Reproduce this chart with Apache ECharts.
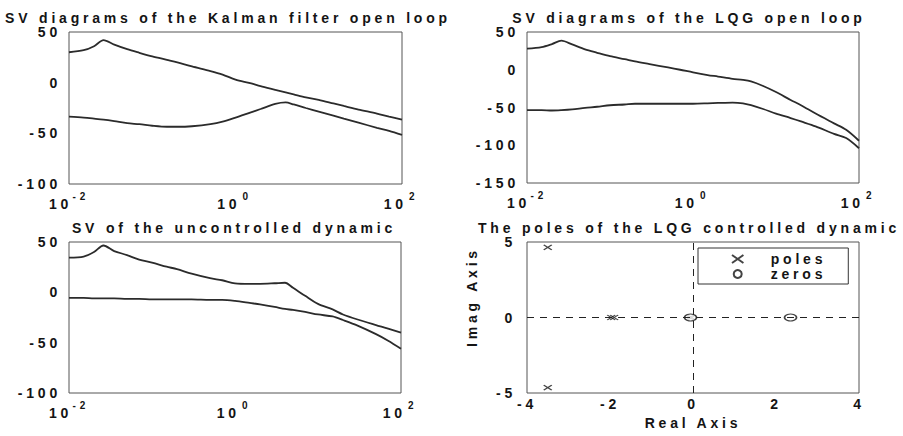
<!DOCTYPE html>
<html>
<head>
<meta charset="utf-8">
<script src="https://cdn.jsdelivr.net/npm/echarts@6.0.0/dist/echarts.min.js"></script>
<style>
html, body { margin: 0; padding: 0; background: #fff; }
#main { width: 903px; height: 436px; }
/* the scanned figure uses widely spaced lettering */
#main text, #main tspan { letter-spacing: 3.8px; }
</style>
</head>
<body>
<div id="main"></div>
<script>
// frequency grid (rad/s) shared by the three singular value plots
var freq = [0.01, 0.015, 0.02, 0.026, 0.035, 0.05, 0.07, 0.1, 0.15, 0.2, 0.3, 0.5, 0.7,
            1, 1.5, 2, 3, 4, 5, 7, 10, 15, 20, 30, 50, 70, 100];

// singular values (dB)
var kalmanUpper = [30, 32, 36, 42, 37.5, 33, 29.5, 26, 22.5, 20, 16, 11.5, 8,
                   3, -0.5, -3.5, -7, -9.5, -11.5, -14.5, -17, -20.5, -23, -26.5, -30.5, -33.5, -36.5];
var kalmanLower = [-33.5, -34.5, -35.5, -36.5, -38, -40, -41, -42.5, -43.5, -43.5, -43, -41, -38.5,
                   -34.5, -29.5, -26, -21, -19.5, -21.5, -25, -28.5, -32.5, -35.5, -39.5, -44.5, -47.5, -51.5];
var lqgUpper = [28, 30, 34, 38.5, 33.5, 27, 22.5, 18, 14, 11, 7.5, 3, 0,
                -3.5, -7, -9, -12, -13.5, -15.5, -21.5, -29.5, -40, -47, -58, -71, -79.5, -94];
var lqgLower = [-53.5, -53.5, -54, -53.5, -52.5, -50.5, -49, -47, -46, -45, -45, -45, -45,
                -45, -44.5, -44, -43.5, -44.5, -47, -52, -58, -64, -68.5, -75, -85, -90.5, -104];
var plantUpper = [34.5, 35.5, 40, 46.5, 41, 37, 32.5, 29.5, 25.5, 23, 18.5, 14, 12,
                  9, 8.5, 8.5, 9, 9.5, 4.5, -3.5, -11.5, -17, -22, -27, -32.5, -36, -40];
var plantLower = [-5.5, -5.5, -6, -6, -6, -6.5, -6.5, -7, -7, -7, -7, -7.5, -7.5,
                  -8.5, -10.5, -12, -14.5, -16.5, -17.5, -19.5, -22, -24, -27.5, -33, -41.5, -48, -56];

// pole / zero map of the closed loop
var poleRe = [-3.5, -3.5, -1.97, -1.9, -0.03, -0.08];
var poleIm = [4.65, -4.65, 0, 0, 0, 0];
var zeroRe = [-0.06, 2.35];
var zeroIm = [0, 0];

var titles = ['SV diagrams of the Kalman filter open loop', 'SV diagrams of the LQG open loop',
              'SV of the uncontrolled dynamic', 'The poles of the LQG controlled dynamic'];

var ink = '#141414';

function pairs(xs, ys) {
    return xs.map(function (x, i) { return [x, ys[i]]; });
}

function decadeLabel(v) {
    var e = Math.round(Math.log(v) / Math.LN10);
    if (e % 2 !== 0) return '';
    return '{b|10}{s|' + e + '}';
}

function logX(gi) {
    return {
        type: 'log', logBase: 10, gridIndex: gi, min: 0.01, max: 100,
        axisLine: { show: false }, axisTick: { show: false }, splitLine: { show: false },
        axisLabel: {
            margin: 5, formatter: decadeLabel, showMinLabel: true, showMaxLabel: true,
            rich: {
                b: { fontSize: 14, fontWeight: 'bold', color: ink, lineHeight: 30 },
                s: { fontSize: 10, fontWeight: 'bold', color: ink, lineHeight: 20, verticalAlign: 'top', padding: [2, 0, 0, 8] }
            }
        }
    };
}

function valY(gi, min, max, step) {
    return {
        type: 'value', gridIndex: gi, min: min, max: max, interval: step,
        axisLine: { show: false }, axisTick: { show: false }, splitLine: { show: false },
        axisLabel: { margin: 8, color: ink, fontSize: 14, lineHeight: 12 }
    };
}

function svLine(gi, ys) {
    return {
        type: 'line', xAxisIndex: gi, yAxisIndex: gi, data: pairs(freq, ys),
        showSymbol: false, smooth: 0.3, silent: true,
        lineStyle: { color: '#2b2b2b', width: 1.8 }
    };
}

var gridBox = { show: true, borderColor: '#555', borderWidth: 1, backgroundColor: 'transparent' };

var myChart = echarts.init(document.getElementById('main'), null, { renderer: 'svg' });

var option = {
    animation: false,
    backgroundColor: '#fff',
    textStyle: { fontFamily: 'Liberation Sans, Arial, sans-serif', fontWeight: 'bold', fontSize: 14, color: ink },
    title: [
        { text: titles[0], left: 228, top: 11, textAlign: 'center' },
        { text: titles[1], left: 689, top: 11, textAlign: 'center' },
        { text: titles[2], left: 234, top: 221, textAlign: 'center' },
        { text: titles[3], left: 689, top: 221, textAlign: 'center' }
    ].map(function (t) {
        t.padding = 0;
        t.textStyle = { fontSize: 14, fontWeight: 'bold', color: ink, lineHeight: 13 };
        return t;
    }),
    // rotated name of the pole-zero y axis, which sits above the axis middle in the original
    graphic: [{
        type: 'text', x: 472, y: 297, rotation: Math.PI / 2,
        style: {
            text: 'Imag Axis', fill: ink, align: 'center', verticalAlign: 'middle',
            textAlign: 'center', textVerticalAlign: 'middle',
            font: 'bold 14px "Liberation Sans", Arial, sans-serif'
        }
    }],
    grid: [
        Object.assign({ left: 69, top: 32, width: 333, height: 152 }, gridBox),
        Object.assign({ left: 527, top: 32, width: 332, height: 151 }, gridBox),
        Object.assign({ left: 69, top: 242, width: 332, height: 151 }, gridBox),
        Object.assign({ left: 527, top: 242, width: 332, height: 151 }, gridBox)
    ],
    xAxis: [
        logX(0), logX(1), logX(2),
        {
            type: 'value', gridIndex: 3, min: -4, max: 4, interval: 2,
            name: 'Real Axis', nameLocation: 'middle', nameGap: 23,
            nameTextStyle: { fontSize: 14, fontWeight: 'bold', color: ink },
            axisLine: { show: false }, axisTick: { show: false }, splitLine: { show: false },
            axisLabel: { margin: 4, color: ink, fontSize: 14 }
        }
    ],
    yAxis: [
        valY(0, -100, 50, 50), valY(1, -150, 50, 50), valY(2, -100, 50, 50),
        {
            type: 'value', gridIndex: 3, min: -5, max: 5, interval: 5,
            axisLine: { show: false }, axisTick: { show: false }, splitLine: { show: false },
            axisLabel: { margin: 11, color: ink, fontSize: 14 }
        }
    ],
    legend: {
        left: 698, top: 248, orient: 'vertical',
        padding: [4, 41, 3, 33], itemGap: 1, itemWidth: 12, itemHeight: 8,
        borderColor: '#333', borderWidth: 1,
        textStyle: { fontSize: 14, fontWeight: 'bold', color: ink, padding: [0, 0, 0, 22] },
        data: [
            { name: 'poles', icon: 'path://M0,0L10,7M10,0L0,7' },
            { name: 'zeros', icon: 'circle' }
        ]
    },
    series: [
        svLine(0, kalmanUpper), svLine(0, kalmanLower),
        svLine(1, lqgUpper), svLine(1, lqgLower),
        svLine(2, plantUpper), svLine(2, plantLower),
        {
            name: 'poles', type: 'scatter', xAxisIndex: 3, yAxisIndex: 3,
            data: pairs(poleRe, poleIm),
            symbol: 'path://M0,0L10,7M10,0L0,7', symbolSize: [8, 5],
            itemStyle: { color: 'rgba(0,0,0,0)', borderColor: ink, borderWidth: 1.3 },
            markLine: {
                silent: true, symbol: ['none', 'none'], label: { show: false },
                lineStyle: { type: [7, 6], color: '#222', width: 1 },
                data: [{ xAxis: 0 }, { yAxis: 0 }]
            }
        },
        {
            name: 'zeros', type: 'scatter', xAxisIndex: 3, yAxisIndex: 3,
            data: pairs(zeroRe, zeroIm),
            symbol: 'circle', symbolSize: [12, 7],
            itemStyle: { color: '#fff', borderColor: ink, borderWidth: 1.3 }
        }
    ]
};

myChart.setOption(option);
</script>
</body>
</html>
